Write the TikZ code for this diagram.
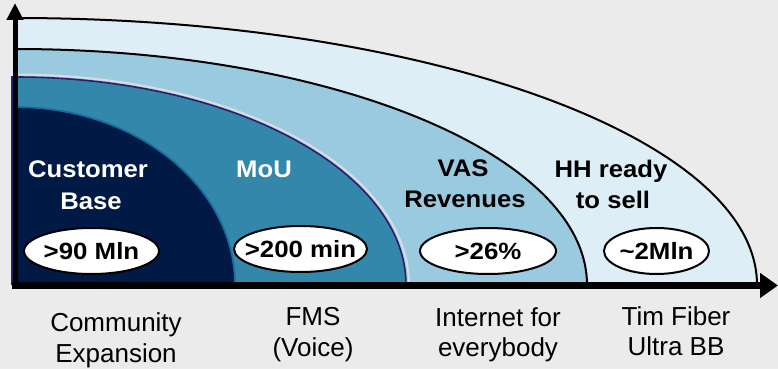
\documentclass[tikz,border=0pt]{standalone}
\usepackage{fontspec}
\setmainfont{Liberation Sans}
\newfontfamily\titlefont[FakeStretch=1.07]{Liberation Sans}
\newfontfamily\ovalfont[FakeStretch=1.1]{Liberation Sans}
\usetikzlibrary{arrows.meta,shapes.geometric}
\definecolor{bgc}{HTML}{EBEBEB}
\definecolor{outerc}{HTML}{DDEEF6}
\definecolor{lightc}{HTML}{9ACAE0}
\definecolor{tealc}{HTML}{3387AB}
\definecolor{navyc}{HTML}{001A45}
\definecolor{purplec}{HTML}{2E1C6E}
\definecolor{navyedge}{HTML}{1B6B9C}
\definecolor{haloc}{HTML}{D8DDE2}
\begin{document}
\begin{tikzpicture}[x=1pt,y=-1pt,
  wtitle/.style={anchor=base, inner sep=0pt, text=white, font=\titlefont\bfseries\fontsize{24}{28}\selectfont},
  btitle/.style={anchor=base, inner sep=0pt, text=black, font=\titlefont\bfseries\fontsize{24}{28}\selectfont},
  oval/.style={ellipse, draw=black, line width=2pt, fill=white, inner sep=0pt,
    minimum height=46pt, font=\ovalfont\bfseries\fontsize{23.5}{27}\selectfont},
  sublabel/.style={anchor=base, inner sep=0pt, text=black, font=\fontsize{26}{30}\selectfont},
  arcline/.style={line width=2pt, black}
]
\useasboundingbox (0,0) rectangle (778,369);
\fill[bgc] (0,0) rectangle (778,369);

% outer region
\fill[outerc] (15,285) -- (15,18) arc[start angle=90, end angle=0, x radius=742pt, y radius=267pt] -- cycle;
\draw[arcline] (15,18) arc[start angle=90, end angle=0, x radius=742pt, y radius=267pt];
% second region
\fill[lightc] (15,285) -- (15,49) arc[start angle=90, end angle=0, x radius=572pt, y radius=236pt] -- cycle;
\draw[arcline] (15,49) arc[start angle=90, end angle=0, x radius=572pt, y radius=236pt];
% teal region
\draw[haloc, line width=2pt] (15,74.5) arc[start angle=90, end angle=0, x radius=394pt, y radius=210.5pt];
\fill[tealc] (12,285) -- (12,77) -- (15,77) arc[start angle=90, end angle=0, x radius=391pt, y radius=208pt] -- cycle;
\draw[purplec, line width=1.6pt] (12,285) -- (12,77) -- (15,77) arc[start angle=90, end angle=0, x radius=391pt, y radius=208pt];
% navy region
\fill[navyc] (15,285) -- (15,107) arc[start angle=90, end angle=0, x radius=220pt, y radius=178pt] -- cycle;
\draw[navyedge, line width=1.8pt] (15,107) arc[start angle=90, end angle=0, x radius=220pt, y radius=178pt];

% axes
\coordinate (ybot) at (15,289);
\coordinate (ytop) at (15,3);
\coordinate (xleft) at (12,285.5);
\coordinate (xright) at (778,285.5);
\draw[line width=5pt, -{Triangle[length=17pt,width=16pt]}] (ybot) -- (ytop);
\draw[line width=7pt, -{Triangle[length=18pt,width=24pt]}] (xleft) -- (xright);

% titles
\node[wtitle] (cust) at (88,177) {Customer};
\node[wtitle] (base) at (91,209) {Base};
\node[wtitle] (mou) at (264,177.5) {MoU};
\node[btitle] (vas) at (463,176.5) {VAS};
\node[btitle] (rev) at (465,207) {Revenues};
\node[btitle] (hh) at (611,177) {HH ready};
\node[btitle] (sell) at (613,208) {to sell};

% ovals
\node[oval, minimum width=135pt] (o1) at (91.5,251) {\makebox[0pt][c]{>90 Mln}};
\node[oval, minimum width=133pt] (o2) at (300.5,249) {\makebox[0pt][c]{>200 min}};
\node[oval, minimum width=136pt] (o3) at (488,251) {\makebox[0pt][c]{>26\%}};
\node[oval, minimum width=105pt] (o4) at (656.5,251) {\makebox[0pt][c]{\textasciitilde 2Mln}};

% bottom labels
\node[sublabel] (l1a) at (116,331) {Community};
\node[sublabel] (l1b) at (116,362) {Expansion};
\node[sublabel] (l2a) at (313,325.5) {FMS};
\node[sublabel] (l2b) at (313,356) {(Voice)};
\node[sublabel] (l3a) at (498,326) {Internet for};
\node[sublabel] (l3b) at (498,356) {everybody};
\node[sublabel] (l4a) at (676,325.5) {Tim Fiber};
\node[sublabel] (l4b) at (676,355.5) {Ultra BB};
\end{tikzpicture}
\end{document}
